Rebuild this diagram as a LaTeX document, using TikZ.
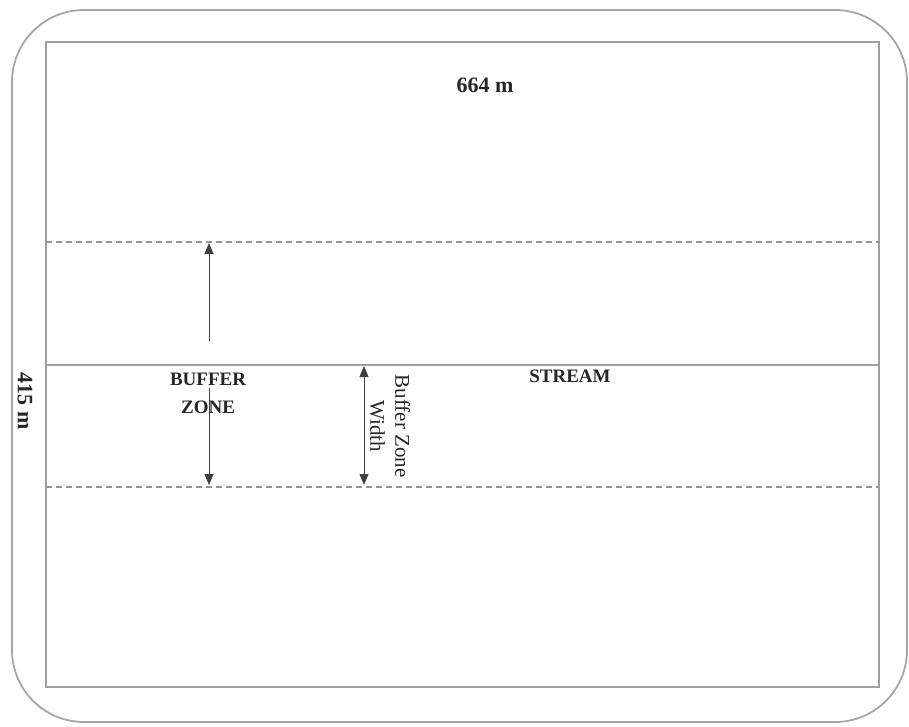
\documentclass[tikz,border=0pt]{standalone}
\usepackage{fontspec}
\setmainfont{Liberation Serif}
\usetikzlibrary{arrows.meta}
\begin{document}
\begin{tikzpicture}[x=0.5pt, y=-0.5pt,
  trait/.style={gray!75, line width=0.6pt},
  pointille/.style={gray!85, line width=0.6pt, dash pattern=on 3pt off 2pt},
  fleche/.style={-{Triangle[length=5.5pt,width=4.5pt]}, black!75, line width=0.5pt},
  titre/.style={black!85, font=\fontsize{9.5}{14}\selectfont\bfseries, align=center}]
  \useasboundingbox (0,0) rectangle (909,727);

  % Le cadre
  \draw[gray!70, line width=0.9pt, rounded corners=36pt] (12,10) rectangle (907,722);

  % Le rectangle
  \draw[trait] (46,42) rectangle (879,687);

  % Les lignes
  \coordinate (hautG) at (46,242);  \coordinate (hautD) at (879,242);
  \coordinate (rivG) at (46,365);   \coordinate (rivD) at (879,365);
  \coordinate (basG) at (46,487);   \coordinate (basD) at (879,487);
  \draw[pointille] (hautG) -- (hautD);
  \draw[trait] (rivG) -- (rivD);
  \draw[pointille] (basG) -- (basD);

  % Les fleches
  \coordinate (f1) at (209,341);
  \coordinate (f2) at (209,388);
  \coordinate (f3) at (364,365);
  \draw[fleche] (f1) -- ([yshift=-0.5pt]f1 |- hautG);
  \draw[fleche] (f2) -- ([yshift=1pt]f2 |- basG);
  \draw[fleche, {Triangle[length=5.5pt,width=4.5pt]}-{Triangle[length=5.5pt,width=4.5pt]}] ([yshift=-0.5pt]f3) -- ([yshift=1pt]f3 |- basG);

  % Les lettres
  \node[titre, font=\fontsize{11}{13}\selectfont\bfseries] (longueur) at (485,85) {664 m};
  \node[titre, font=\fontsize{11}{13}\selectfont\bfseries, rotate=-90] (largeur) at (25,401) {415 m};
  \node[titre] (buffer) at (208,393) {BUFFER\\ZONE};
  \node[titre] (stream) at (570,376) {STREAM};
  \node[black!85, rotate=-90, align=center, font=\fontsize{10.5}{12.5}\selectfont] (bzw) at (390,426) {Buffer Zone\\Width};
\end{tikzpicture}
\end{document}
